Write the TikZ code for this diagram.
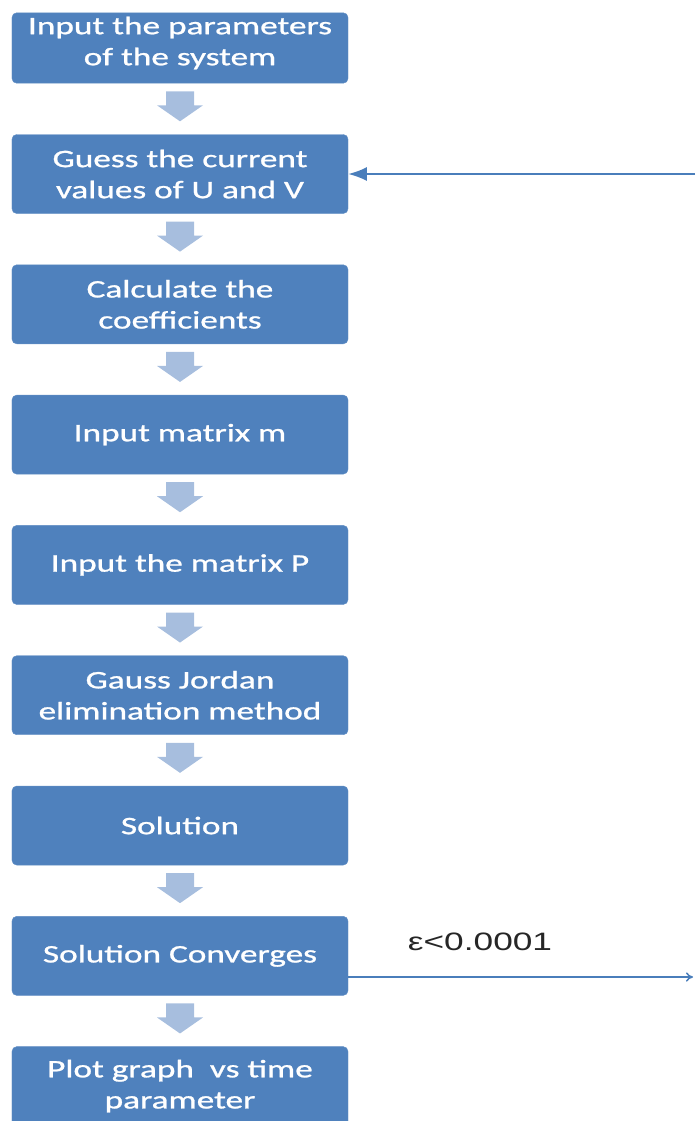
\documentclass[tikz,border=0pt]{standalone}
\usepackage{fontspec}
\usetikzlibrary{positioning,calc,arrows.meta}
\newfontfamily\boxfont[FakeStretch=1.4,FakeBold=1]{Carlito}
\newfontfamily\epsfont[FakeStretch=1.4]{Liberation Sans}
\definecolor{boxblue}{HTML}{4F81BD}
\definecolor{lineblue}{HTML}{4A7EBB}
\definecolor{flowblue}{HTML}{A7BEDE}
\tikzset{
    stepbox/.style={rectangle, rounded corners=4pt, fill=boxblue, draw=boxblue!90!white,
        minimum width=10.08cm, minimum height=2.37cm, align=center, text=white,
        font=\boxfont\fontsize{21.5}{26.5}\selectfont},
    flowarrow/.style={fill=flowblue},
    loopline/.style={draw=lineblue, line width=1.6pt},
}
% block arrow between two boxes
\newcommand\FlowArrow[2]{%
    \fill[flowarrow] ($(#1.south)!0.45!(#2.north)$) ++(-14,-15) -- ++(28,0) -- ++(0,14)
        -- ++(9,0) -- ++(-23,16) -- ++(-23,-16) -- ++(9,0) -- cycle;
}
\begin{document}
\begin{tikzpicture}[x=0.03cm, y=-0.03cm, node distance=1.525cm]
    \useasboundingbox (0,0) rectangle (696,1121);
    \node[stepbox, minimum height=2.04cm, text depth=12pt] (params) at (180,48)
        {Input the parameters\\of the system};
    \node[stepbox, below=of params] (guess) {Guess the current\\values of U and V};
    \node[stepbox, below=of guess] (coeff) {Calculate the\\coefficients};
    \node[stepbox, below=of coeff] (matm) {Input matrix m};
    \node[stepbox, below=of matm] (matp) {Input the matrix P};
    \node[stepbox, below=of matp] (gauss) {Gauss Jordan\\elimination method};
    \node[stepbox, below=of gauss] (sol) {Solution};
    \node[stepbox, below=of sol] (conv) {Solution Converges};
    \node[stepbox, below=of conv] (plot) {Plot graph\ \ vs time\\parameter};
    \FlowArrow{params}{guess}
    \FlowArrow{guess}{coeff}
    \FlowArrow{coeff}{matm}
    \FlowArrow{matm}{matp}
    \FlowArrow{matp}{gauss}
    \FlowArrow{gauss}{sol}
    \FlowArrow{sol}{conv}
    \FlowArrow{conv}{plot}
    % iteration loop
    \coordinate (loopin) at (guess.east -| 695,0);
    \coordinate (loopout) at (693,977);
    \draw[loopline, -{Latex[length=16pt,width=12pt]}] (loopin) -- (guess.east);
    \draw[loopline, line width=1.3pt, -{To[length=6pt,width=8pt]}] (conv.east |- loopout) -- (loopout);
    \node[font=\epsfont\fontsize{21.5}{24}\selectfont, text=black!85] (eps) at (480,942) {ε<0.0001};
\end{tikzpicture}
\end{document}
